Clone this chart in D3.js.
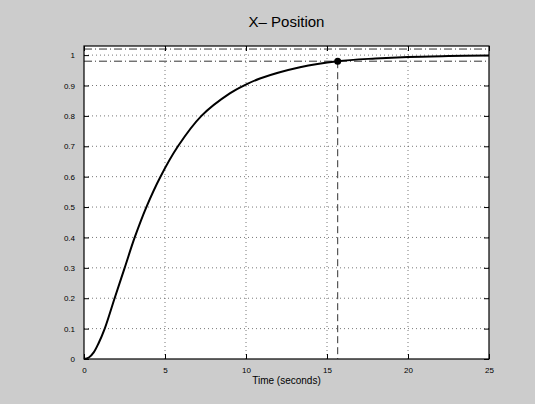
<!DOCTYPE html>
<html>
<head>
<meta charset="utf-8">
<script src="https://cdn.jsdelivr.net/npm/d3@7"></script>
<style>
  body { margin: 0; background: #cccccc; }
  text { font-family: "Liberation Sans", Arial, sans-serif; fill: #000; }
</style>
</head>
<body>
<div class="chart"></div>
<script>
var svgWidth = 535;
var svgHeight = 404;

var margin = { top: 46, right: 46, bottom: 45, left: 84 };
var width = svgWidth - margin.left - margin.right;
var height = svgHeight - margin.top - margin.bottom;

// values
var timeVals = [0, 0.3, 0.6, 0.9, 1.28, 1.89, 2.51, 3.13, 3.85, 4.72, 5.8, 7.25, 9.0, 10, 10.86, 13.33, 15.66, 18, 20, 22.5, 25];
var posVals  = [0, 0.005, 0.022, 0.052, 0.1, 0.2, 0.3, 0.4, 0.5, 0.6, 0.7, 0.8, 0.874, 0.903, 0.923, 0.96, 0.98, 0.989, 0.994, 0.997, 0.999];
var xTicks = [0, 5, 10, 15, 20, 25];
var yTicks = [0, 0.1, 0.2, 0.3, 0.4, 0.5, 0.6, 0.7, 0.8, 0.9, 1];
var bandVals = [1.02, 0.98];
var settleTime = 15.66;
var settleVal = 0.98;

var data = timeVals.map((t, i) => ({ t: t, v: posVals[i] }));

var svg = d3.select(".chart")
  .append("svg")
  .attr("width", svgWidth)
  .attr("height", svgHeight);

svg.append("rect")
  .attr("width", svgWidth)
  .attr("height", svgHeight)
  .attr("fill", "#cccccc");

var chartGroup = svg.append("g")
  .attr("transform", `translate(${margin.left}, ${margin.top})`);

var xScale = d3.scaleLinear().domain([0, 25]).range([0, width]);
var yScale = d3.scaleLinear().domain([0, 1.03]).range([height, 0]);

chartGroup.append("rect")
  .attr("width", width)
  .attr("height", height)
  .attr("fill", "#fff");

// grid lines
chartGroup.selectAll(".xgrid")
  .data(xTicks.slice(1, -1))
  .enter()
  .append("line")
  .attr("x1", d => xScale(d)).attr("x2", d => xScale(d))
  .attr("y1", 0).attr("y2", height)
  .attr("stroke", "#555")
  .attr("stroke-width", 0.8)
  .attr("stroke-dasharray", "1,3");

chartGroup.selectAll(".ygrid")
  .data(yTicks.slice(1))
  .enter()
  .append("line")
  .attr("x1", 0).attr("x2", width)
  .attr("y1", d => yScale(d)).attr("y2", d => yScale(d))
  .attr("stroke", "#555")
  .attr("stroke-width", 0.8)
  .attr("stroke-dasharray", "1,3");

// 2% band
chartGroup.selectAll(".band")
  .data(bandVals)
  .enter()
  .append("line")
  .attr("x1", 0).attr("x2", width)
  .attr("y1", d => yScale(d)).attr("y2", d => yScale(d))
  .attr("stroke", "#333")
  .attr("stroke-width", 1)
  .attr("stroke-dasharray", "8,3,1,3");

// settling time marker
chartGroup.append("line")
  .attr("x1", xScale(settleTime)).attr("x2", xScale(settleTime))
  .attr("y1", yScale(settleVal)).attr("y2", height)
  .attr("stroke", "#333")
  .attr("stroke-width", 1)
  .attr("stroke-dasharray", "7,4");

var line = d3.line()
  .x(d => xScale(d.t))
  .y(d => yScale(d.v))
  .curve(d3.curveCatmullRom.alpha(0.5));

chartGroup.append("path")
  .datum(data)
  .attr("d", line)
  .attr("fill", "none")
  .attr("stroke", "#000")
  .attr("stroke-width", 2);

chartGroup.append("circle")
  .attr("cx", xScale(settleTime))
  .attr("cy", yScale(settleVal))
  .attr("r", 3.5)
  .attr("fill", "#000");

// axes (matlab style, ticks inside)
var bottomAxis = d3.axisBottom(xScale).tickValues(xTicks).tickSize(-5).tickPadding(8).tickFormat(d3.format("d"));
var topAxis = d3.axisTop(xScale).tickValues(xTicks).tickSize(-5).tickFormat("");
var leftAxis = d3.axisLeft(yScale).tickValues(yTicks).tickSize(-5).tickPadding(9).tickFormat(d => d === 0 || d === 1 ? d : d.toFixed(1));
var rightAxis = d3.axisRight(yScale).tickValues(yTicks).tickSize(-5).tickFormat("");

function styleAxis(g) {
  g.select(".domain").remove();
  g.selectAll("line").attr("stroke", "#000");
  g.selectAll("text").attr("font-size", "8px").attr("font-family", "Liberation Sans, Arial, sans-serif");
}

chartGroup.append("g").attr("transform", `translate(0, ${height})`).call(bottomAxis).call(styleAxis);
chartGroup.append("g").call(topAxis).call(styleAxis);
chartGroup.append("g").call(leftAxis).call(styleAxis);
chartGroup.append("g").attr("transform", `translate(${width}, 0)`).call(rightAxis).call(styleAxis);

chartGroup.append("rect")
  .attr("width", width)
  .attr("height", height)
  .attr("fill", "none")
  .attr("stroke", "#000")
  .attr("stroke-width", 1.2);

// labels
svg.append("text")
  .attr("x", margin.left + width / 2)
  .attr("y", 27)
  .attr("text-anchor", "middle")
  .attr("font-size", "15px")
  .text("X\u2013 Position");

svg.append("text")
  .attr("x", margin.left + width / 2)
  .attr("y", 384)
  .attr("text-anchor", "middle")
  .attr("font-size", "10px")
  .text("Time (seconds)");
</script>
</body>
</html>
